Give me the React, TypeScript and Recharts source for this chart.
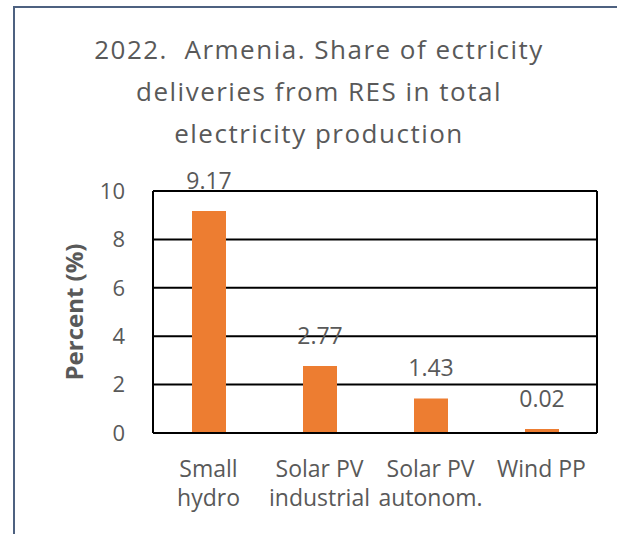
import React from "react";
import {
  BarChart,
  Bar,
  XAxis,
  YAxis,
  CartesianGrid,
  LabelList,
  Label,
} from "recharts";

const categories = ["Small\nhydro", "Solar PV\nindustrial", "Solar PV\nautonom.", "Wind PP"];
const shares = [9.17, 2.77, 1.43, 0.02];
const yTicks = [0, 2, 4, 6, 8, 10];
const titleLines = [
  "2022.  Armenia. Share of ectricity",
  "deliveries from RES in total",
  "electricity production",
];

const data = categories.map((name, i) => ({ name, share: shares[i] }));

const grey = "#595959";
const font = "'Open Sans', 'Liberation Sans', sans-serif";

function CategoryTick(props: any) {
  const { x, y, payload } = props;
  const lines = String(payload.value).split("\n");
  return (
    <text x={x} y={y} textAnchor="middle" fill={grey} fontSize={23} fontFamily={font}>
      {lines.map((line, i) => (
        <tspan key={i} x={x} dy={i === 0 ? 36 : 29}>
          {line}
        </tspan>
      ))}
    </text>
  );
}

export default function App() {
  return (
    <div style={{ position: "absolute", left: 0, top: 0, width: 617, height: 534, background: "#fff", overflow: "hidden" }}>
      {/* frame edge */}
      <div
        style={{
          position: "absolute",
          left: 13,
          top: 6,
          width: 620,
          height: 540,
          borderLeft: "2px solid #4d6180",
          borderTop: "2px solid #4d6180",
        }}
      />
      <div
        style={{
          position: "absolute",
          left: 0,
          top: 28,
          width: 638,
          textAlign: "center",
          fontFamily: font,
          fontSize: 26,
          letterSpacing: 1.5,
          lineHeight: "42px",
          color: grey,
        }}
      >
        {titleLines.map((t, i) => (
          <div key={i} style={{ whiteSpace: "pre" }}>{t}</div>
        ))}
      </div>
      <div style={{ position: "absolute", left: 0, top: 0 }}>
        <BarChart
          width={617}
          height={534}
          data={data}
          margin={{ top: 191, right: 20, bottom: 21, left: 93 }}
        >
          <CartesianGrid
            stroke="#000"
            strokeWidth={2}
            verticalCoordinatesGenerator={({ offset }: any) => [offset.left, offset.left + offset.width]}
          />
          <XAxis
            dataKey="name"
            height={80}
            interval={0}
            tickLine={false}
            axisLine={{ stroke: "#000", strokeWidth: 2 }}
            tick={<CategoryTick />}
          />
          <YAxis
            width={60}
            domain={[0, 10]}
            ticks={yTicks}
            tickLine={false}
            tickSize={0}
            tickMargin={28}
            axisLine={{ stroke: "#000", strokeWidth: 2 }}
            tick={{ fill: grey, fontSize: 22, fontFamily: font }}
          >
            <Label
              value="Percent (%)"
              angle={-90}
              position="insideLeft"
              offset={-19}
              style={{ textAnchor: "middle", fill: grey, fontSize: 24, fontWeight: 700, fontFamily: font }}
            />
          </YAxis>
          <Bar dataKey="share" fill="#ED7D31" barSize={34} minPointSize={4} isAnimationActive={false}>
            <LabelList
              dataKey="share"
              position="top"
              offset={22}
              fill={grey}
              fontSize={23}
              fontFamily={font}
            />
          </Bar>
        </BarChart>
      </div>
    </div>
  );
}
